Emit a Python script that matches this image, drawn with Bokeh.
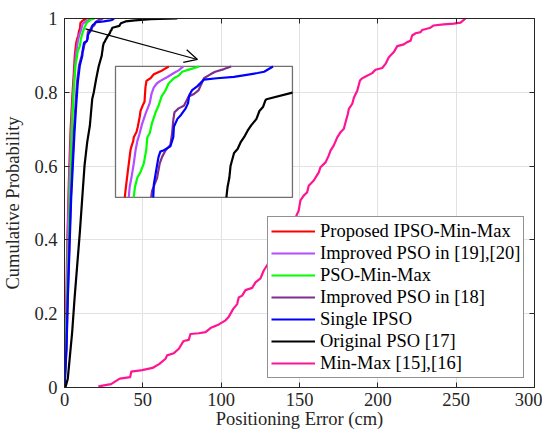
from bokeh.plotting import figure
from bokeh.models import (Range1d, LinearAxis, FixedTicker, Legend, LegendItem,
                          Arrow, OpenHead, CustomJSTickFormatter)
from bokeh.embed import file_html
from bokeh.resources import INLINE

FONT = "Liberation Serif"
FONT_SIZE = "18.5px"
AXIS_COLOR = "#262626"

# Empirical CDFs: positioning error (cm) and cumulative probability per method
names = ["Proposed IPSO-Min-Max", "Improved PSO in [19],[20]", "PSO-Min-Max",
         "Improved PSO in [18]", "Single IPSO", "Original PSO [17]", "Min-Max [15],[16]"]
colors = ["#ff0000", "#b44cff", "#00ff00", "#7e2f8e", "#0000ff", "#000000", "#ff1493"]

proposed_err = [0.0, 1.06, 1.7, 2.77, 3.83, 4.9, 5.96, 6.58, 6.69, 6.98, 7.54, 7.71, 8.0, 8.1,
                8.56, 8.78, 9.12, 9.24, 9.69, 9.92, 10.08, 10.25, 10.93, 11.5, 12.92, 14.03]
proposed_cdf = [0.0, 0.197, 0.377, 0.557, 0.692, 0.782, 0.854, 0.9, 0.905, 0.916, 0.936, 0.939,
                0.943, 0.946, 0.950, 0.954, 0.962, 0.966, 0.971, 0.973, 0.984, 0.989, 0.991,
                0.994, 0.997, 1.0]

ipso1920_err = [0.0, 1.2, 1.9, 3.0, 4.2, 5.3, 6.4, 7.25, 7.4, 7.7, 8.1, 8.4, 8.7, 9.1, 9.5, 10.1,
                10.8, 11.1, 11.5, 12.0, 12.6, 13.8, 14.9, 15.7, 16.5]
ipso1920_cdf = [0.0, 0.197, 0.377, 0.557, 0.692, 0.782, 0.854, 0.9, 0.908, 0.915, 0.926, 0.936,
                0.943, 0.949, 0.956, 0.964, 0.972, 0.979, 0.984, 0.987, 0.989, 0.992, 0.995,
                0.997, 1.0]

psominmax_err = [0.0, 1.06, 1.7, 2.55, 3.4, 4.25, 5.1, 5.96, 7.0, 8.1, 8.3, 8.7, 9.2, 9.8, 10.2,
                 10.4, 10.8, 11.2, 11.8, 12.3, 12.8, 13.5, 14.0, 14.9, 15.7, 16.3, 17.7, 19.2]
psominmax_cdf = [0.0, 0.105, 0.241, 0.377, 0.511, 0.629, 0.737, 0.809, 0.873, 0.9, 0.908, 0.915,
                 0.919, 0.926, 0.936, 0.946, 0.949, 0.957, 0.965, 0.970, 0.977, 0.982, 0.987,
                 0.991, 0.993, 0.996, 0.998, 1.0]

ipso18_err = [0.0, 1.2, 2.0, 3.0, 4.0, 5.0, 6.0, 7.0, 8.0, 9.3, 11.05, 11.2, 12.05, 12.5, 12.9,
              13.5, 14.3, 14.6, 14.8, 15.0, 15.7, 16.6, 17.4, 18.3, 19.1, 19.4, 20.0, 21.1,
              21.9, 23.4, 24.6]
ipso18_cdf = [0.0, 0.105, 0.241, 0.377, 0.511, 0.602, 0.692, 0.764, 0.828, 0.873, 0.9, 0.905,
              0.915, 0.926, 0.931, 0.936, 0.940, 0.949, 0.959, 0.965, 0.968, 0.970, 0.977,
              0.979, 0.982, 0.985, 0.991, 0.994, 0.996, 0.998, 1.0]

single_err = [0.0, 1.28, 2.13, 3.19, 4.25, 5.32, 6.38, 7.45, 8.51, 9.79, 11.4, 11.5, 11.8, 12.1,
              12.3, 12.6, 13.2, 14.3, 14.8, 14.9, 15.5, 16.1, 16.9, 17.3, 17.5, 18.0, 18.9,
              20.0, 22.2, 25.1, 29.1, 30.2, 31.7]
single_cdf = [0.0, 0.105, 0.241, 0.377, 0.511, 0.602, 0.692, 0.764, 0.828, 0.873, 0.9, 0.910,
              0.918, 0.926, 0.931, 0.935, 0.936, 0.939, 0.946, 0.954, 0.960, 0.963, 0.968,
              0.972, 0.978, 0.982, 0.985, 0.990, 0.991, 0.992, 0.995, 0.996, 1.0]

original_err = [0.6, 2.1, 2.9, 4.9, 6.4, 8.1, 9.8, 11.3, 12.8, 14.5, 16.2, 17.7, 18.7, 20.2, 21.8,
                23.8, 24.0, 24.3, 24.5, 25.1, 25.7, 26.2, 26.8, 27.4, 28.0, 28.9, 29.4, 30.0,
                30.4, 30.6, 35.0, 36.0, 39.0, 45.0, 55.0, 72.0]
original_cdf = [0.0, 0.024, 0.06, 0.15, 0.24, 0.331, 0.421, 0.512, 0.602, 0.665, 0.71, 0.782, 0.8,
                0.836, 0.87, 0.9, 0.908, 0.915, 0.924, 0.934, 0.937, 0.942, 0.946, 0.951, 0.955,
                0.960, 0.966, 0.969, 0.974, 0.975, 0.980, 0.987, 0.992, 0.995, 0.998, 1.0]

minmax_err = [21.6, 29.7, 35.3, 41.9, 42.6, 49.6, 56.2, 60.6, 64.5, 65.5, 69.8, 73.0, 75.1, 76.1,
              79.3, 80.4, 85.7, 90.0, 93.2, 98.5, 102.8, 104.9, 107.7, 110.2, 111.2, 113.4,
              115.5, 119.8, 121.9, 125.1, 127.2, 129.4, 133.0, 137.0, 141.0, 145.0, 147.5,
              149.5, 150.6, 152.7, 154.9, 155.9, 159.1, 162.3, 163.4, 166.6, 168.7, 169.8,
              171.9, 174.1, 176.2, 178.3, 179.4, 180.9, 181.5, 183.7, 184.7, 186.9, 188.6,
              189.7, 192.2, 196.4, 198.5, 202.8, 204.9, 207.0, 210.2, 212.4, 216.6, 218.7,
              220.9, 221.9, 224.1, 227.3, 228.3, 233.6, 235.4, 242.1, 248.5, 252.8, 256.0]
minmax_cdf = [0.003, 0.009, 0.024, 0.028, 0.043, 0.047, 0.053, 0.064, 0.078, 0.087, 0.093, 0.105,
              0.120, 0.126, 0.129, 0.145, 0.147, 0.150, 0.161, 0.171, 0.182, 0.192, 0.213,
              0.226, 0.244, 0.249, 0.264, 0.270, 0.285, 0.296, 0.317, 0.332, 0.36, 0.39, 0.42,
              0.445, 0.46, 0.480, 0.507, 0.520, 0.529, 0.547, 0.561, 0.583, 0.597, 0.610,
              0.629, 0.642, 0.656, 0.678, 0.692, 0.701, 0.719, 0.742, 0.755, 0.769, 0.785,
              0.805, 0.832, 0.837, 0.843, 0.852, 0.861, 0.866, 0.877, 0.895, 0.909, 0.925,
              0.930, 0.936, 0.940, 0.954, 0.960, 0.963, 0.969, 0.975, 0.981, 0.984, 0.986,
              0.989, 1.0]

errors = [proposed_err, ipso1920_err, psominmax_err, ipso18_err, single_err, original_err, minmax_err]
cdfs = [proposed_cdf, ipso1920_cdf, psominmax_cdf, ipso18_cdf, single_cdf, original_cdf, minmax_cdf]

x_ticks = [0, 50, 100, 150, 200, 250, 300]
y_ticks = [0, 0.2, 0.4, 0.6, 0.8, 1]

# Zoomed window (data units) and where its box sits on the main axes
zoom_x = (5.0, 35.0)
zoom_y = (0.9, 1.0)
box_x = (32.55, 145.5)
box_y = (0.515, 0.870)

p = figure(width=542, height=435, x_range=Range1d(0, 300), y_range=Range1d(0, 1),
           output_backend="svg", toolbar_location=None,
           min_border_left=64, min_border_right=8, min_border_top=18, min_border_bottom=48)
p.background_fill_color = "white"
p.border_fill_color = "white"
p.outline_line_color = AXIS_COLOR
p.outline_line_width = 1

# Extra ranges that map the zoom window onto the inset box
sx = (zoom_x[1] - zoom_x[0]) / (box_x[1] - box_x[0])
sy = (zoom_y[1] - zoom_y[0]) / (box_y[1] - box_y[0])
ix0 = zoom_x[0] - (box_x[0] - p.x_range.start) * sx
iy0 = zoom_y[0] - (box_y[0] - p.y_range.start) * sy
p.extra_x_ranges = {"inset": Range1d(ix0, ix0 + (p.x_range.end - p.x_range.start) * sx)}
p.extra_y_ranges = {"inset": Range1d(iy0, iy0 + (p.y_range.end - p.y_range.start) * sy)}

for ax in (p.xaxis[0], p.yaxis[0]):
    ax.major_tick_in = 5
    ax.major_tick_out = 0
    ax.minor_tick_in = 0
    ax.minor_tick_out = 0
    ax.axis_line_color = AXIS_COLOR
    ax.major_tick_line_color = AXIS_COLOR
    ax.major_label_text_font = FONT
    ax.major_label_text_font_size = FONT_SIZE
    ax.major_label_text_color = AXIS_COLOR
    ax.axis_label_text_font = FONT
    ax.axis_label_text_font_size = FONT_SIZE
    ax.axis_label_text_font_style = "normal"
    ax.axis_label_text_color = AXIS_COLOR

p.xaxis.ticker = FixedTicker(ticks=x_ticks)
p.yaxis.ticker = FixedTicker(ticks=y_ticks)
p.yaxis.formatter = CustomJSTickFormatter(code="return String(tick);")
p.xaxis.axis_label = "Positioning Error (cm)"
p.yaxis.axis_label = "Cumulative Probability"
p.xaxis.major_label_standoff = 5
p.xaxis.axis_label_standoff = 0
p.yaxis.major_label_standoff = 7
p.yaxis.axis_label_standoff = 8

p.xgrid.ticker = FixedTicker(ticks=x_ticks)
p.ygrid.ticker = FixedTicker(ticks=y_ticks)
p.xgrid.grid_line_color = "#e2e2e2"
p.ygrid.grid_line_color = "#e2e2e2"

# Tick marks on the top and right edges of the box
for ticks, side in ((x_ticks, "above"), (y_ticks, "right")):
    ax = LinearAxis(ticker=FixedTicker(ticks=ticks),
                    formatter=CustomJSTickFormatter(code="return '';"),
                    major_label_text_font_size="0px", major_label_standoff=0,
                    major_tick_in=5, major_tick_out=0, minor_tick_in=0, minor_tick_out=0,
                    axis_line_color=AXIS_COLOR, major_tick_line_color=AXIS_COLOR)
    p.add_layout(ax, side)

# Main curves
items = []
for name, color, xs, ys in zip(names, colors, errors, cdfs):
    r = p.line(xs, ys, line_color=color, line_width=2.2, line_join="round")
    items.append(LegendItem(label=name, renderers=[r]))

# Inset: white box with the curves restricted to the zoom window
p.quad(left=[zoom_x[0]], right=[zoom_x[1]], bottom=[zoom_y[0]], top=[zoom_y[1]],
       fill_color="white", line_color="#707070", line_width=1.3,
       x_range_name="inset", y_range_name="inset")
for color, xs, ys in zip(colors, errors, cdfs):
    pts = [(x, y) for x, y in zip(xs, ys)
           if zoom_x[0] <= x <= zoom_x[1] and zoom_y[0] <= y <= zoom_y[1]]
    if len(pts) > 1:
        p.line([a for a, _ in pts], [b for _, b in pts], line_color=color, line_width=2.2,
               line_join="round", x_range_name="inset", y_range_name="inset")

p.add_layout(Arrow(end=OpenHead(size=13, line_width=1.2, line_color="black"),
                   x_start=13.4, y_start=0.972, x_end=84.9, y_end=0.889,
                   line_width=1.2, line_color="black"))

legend = Legend(items=items, location=(203, 9), label_text_font=FONT,
                label_text_font_size=FONT_SIZE, label_text_color="black",
                glyph_width=44, glyph_height=22, label_height=22, label_standoff=5,
                spacing=0, padding=3, margin=0,
                border_line_color=AXIS_COLOR, border_line_width=1,
                background_fill_color="white", background_fill_alpha=1)
p.add_layout(legend, "center")

open("out.html", "w").write(file_html(p, INLINE))
